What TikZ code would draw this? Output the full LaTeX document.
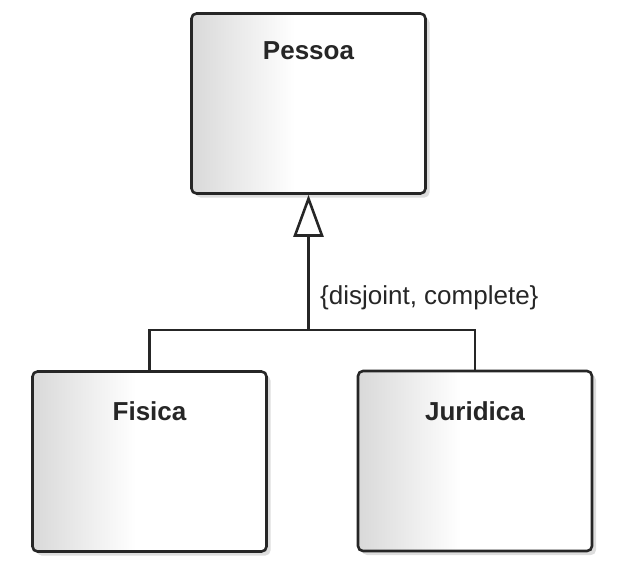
\documentclass[tikz,border=0pt]{standalone}
\usepackage{fontspec}
\setmainfont{Liberation Sans}
\usetikzlibrary{arrows.meta,shadows,positioning}

\pgfdeclarehorizontalshading{boxshade}{100bp}{color(0bp)=(gray!30); color(25bp)=(gray!30); color(47bp)=(white); color(100bp)=(white)}

\tikzset{
  classbox/.style={draw=black!85, line width=2.6pt, rounded corners=5pt,
    minimum width=234pt, minimum height=180pt, shading=boxshade,
    drop shadow={shadow xshift=4pt, shadow yshift=-4pt, fill=gray!45, opacity=.6}},
  classname/.style={font=\fontsize{26}{30}\selectfont\bfseries, text=black!85, inner sep=0pt},
  link/.style={draw=black!85, line width=2.6pt},
  gen/.style={link, -{Triangle[open, length=42pt, width=30pt, line width=2.6pt]}},
}

\begin{document}
\begin{tikzpicture}[x=1pt,y=-1pt]
\useasboundingbox (0,0) rectangle (620,574);

% classes
\node[classbox] (pessoa)   at (308.5,103.5) {};
\node[classbox] (fisica)   at (149.5,461.5) {};
\node[classbox] (juridica) at (475,461)     {};

\node[classname] (pessoaname)   at ([yshift=-38pt]pessoa.north)   {Pessoa};
\node[classname] (fisicaname)   at ([yshift=-41pt]fisica.north)   {Fisica};
\node[classname] (juridicaname) at ([yshift=-41pt]juridica.north) {Juridica};

% generalization
\coordinate (join) at (308.5,330);
\draw[link] (fisica.north) |- (join) -| (juridica.north);
\draw[gen] (join) -- (pessoa.south);

\node[anchor=west, inner sep=0pt, font=\fontsize{26}{30}\selectfont, text=black!85]
  (constraint) at (320,298) {\{disjoint, complete\}};
\end{tikzpicture}
\end{document}
